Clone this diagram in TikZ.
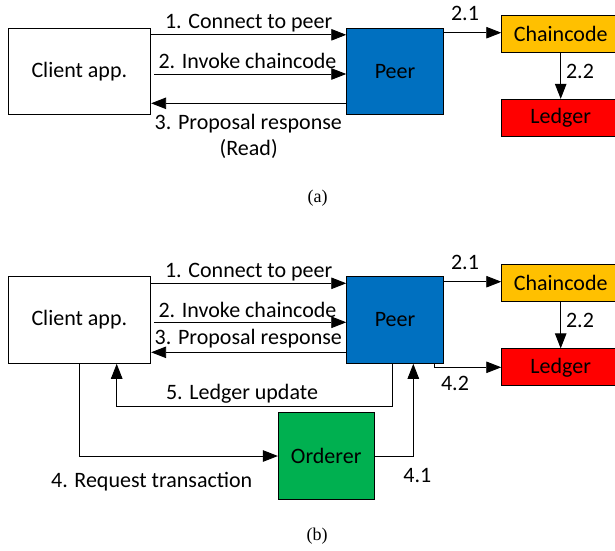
\documentclass[tikz,border=0pt]{standalone}
\usepackage{fontspec}
\setmainfont{Carlito}
\newfontfamily\capfont{Liberation Serif}
\usetikzlibrary{arrows.meta}
\definecolor{peerblue}{HTML}{0070C0}
\definecolor{ccyellow}{HTML}{FFC000}
\definecolor{ledred}{HTML}{FF0000}
\definecolor{ordgreen}{HTML}{00B050}
\begin{document}
\begin{tikzpicture}[x=1pt,y=-1pt,
  font=\fontsize{22}{26}\selectfont,
  rectbox/.style={draw=black, line width=0.9pt, inner sep=0pt, minimum width=#1},
  txt/.style={inner sep=0pt},
  arr/.style={line width=0.9pt, -{Triangle[length=15pt,width=11.5pt]}},
  captxt/.style={inner sep=0pt, font=\capfont\fontsize{18}{21}\selectfont}]
\useasboundingbox (0,0) rectangle (615,550);
% ---------------- (a)
\node[rectbox=142.7pt, minimum height=86.3pt, fill=white] (ca) at (79.35,71.2) {Client app.};
\node[rectbox=96.6pt, minimum height=86pt, fill=peerblue] (pa) at (395,71.3) {Peer};
\node[rectbox=118pt, minimum height=37pt, fill=ccyellow] (cca) at (560.7,34.2) {Chaincode};
\node[rectbox=118pt, minimum height=37.4pt, fill=ledred] (la) at (560.7,118) {Ledger};
\coordinate (sa2) at (154.3,74);
\draw[arr] (ca.east |- 0,34.8) -- (pa.west |- 0,34.8);
\draw[arr] (sa2) -- (pa.west |- sa2);
\draw[arr] (pa.west |- 0,103.3) -- (ca.east |- 0,103.3);
\draw[arr] (pa.east |- 0,32.7) -- (cca.west |- 0,32.7);
\draw[arr] (cca.south) -- (la.north);
\node[txt] (la1) at (248.7,23.3) {1. Connect to peer};
\node[txt] (la2) at (247.5,60.7) {2. Invoke chaincode};
\node[txt] (la3) at (248.3,123.3) {3. Proposal response};
\node[txt] (la3b) at (248.7,149) {(Read)};
\node[txt] (la21) at (465,13.3) {2.1};
\node[txt] (la22) at (580,71.7) {2.2};
\node[captxt] (capa) at (317.5,198.5) {(a)};
% ---------------- (b)
\node[rectbox=142.7pt, minimum height=86.7pt, fill=white] (cb) at (79.35,320) {Client app.};
\node[rectbox=96.6pt, minimum height=86.7pt, fill=peerblue] (pb) at (395,320) {Peer};
\node[rectbox=118pt, minimum height=37pt, fill=ccyellow] (ccb) at (560.7,283.3) {Chaincode};
\node[rectbox=118pt, minimum height=37pt, fill=ledred] (lb) at (560.7,367.3) {Ledger};
\node[rectbox=95.7pt, minimum height=86.6pt, fill=ordgreen] (ob) at (326.2,456) {Orderer};
\coordinate (sb2) at (154.3,322.3);
\coordinate (c5a) at (392.7,406);
\coordinate (c5b) at (116.7,406);
\coordinate (c41) at (413.3,456);
\coordinate (c42) at (434.7,0);
\draw[arr] (cb.east |- 0,283.3) -- (pb.west |- 0,283.3);
\draw[arr] (sb2) -- (pb.west |- sb2);
\draw[arr] (pb.west |- 0,352.3) -- (cb.east |- 0,352.3);
\draw[arr] (pb.east |- 0,281.7) -- (ccb.west |- 0,281.7);
\draw[arr] (ccb.south) -- (lb.north);
\draw[arr] (pb.south -| c42) |- (lb.west);
\draw[arr] (pb.south -| c5a) -- (c5a) -- (c5b) -- (cb.south -| c5b);
\draw[arr] (cb.south) |- (ob.west);
\draw[arr] (ob.east) -- (c41) -- (pb.south -| c41);
\node[txt] (lb1) at (248.7,272.3) {1. Connect to peer};
\node[txt] (lb2) at (247.5,310) {2. Invoke chaincode};
\node[txt] (lb3) at (248.3,338.3) {3. Proposal response};
\node[txt] (lb21) at (465,262.7) {2.1};
\node[txt] (lb22) at (580,320.7) {2.2};
\node[txt] (lb42) at (455,383) {4.2};
\node[txt] (lb5) at (242,393.3) {5. Ledger update};
\node[txt] (lb4) at (151.7,481.7) {4. Request transaction};
\node[txt] (lb41) at (417.3,475) {4.1};
\node[captxt] (capb) at (317,536) {(b)};
\end{tikzpicture}
\end{document}
